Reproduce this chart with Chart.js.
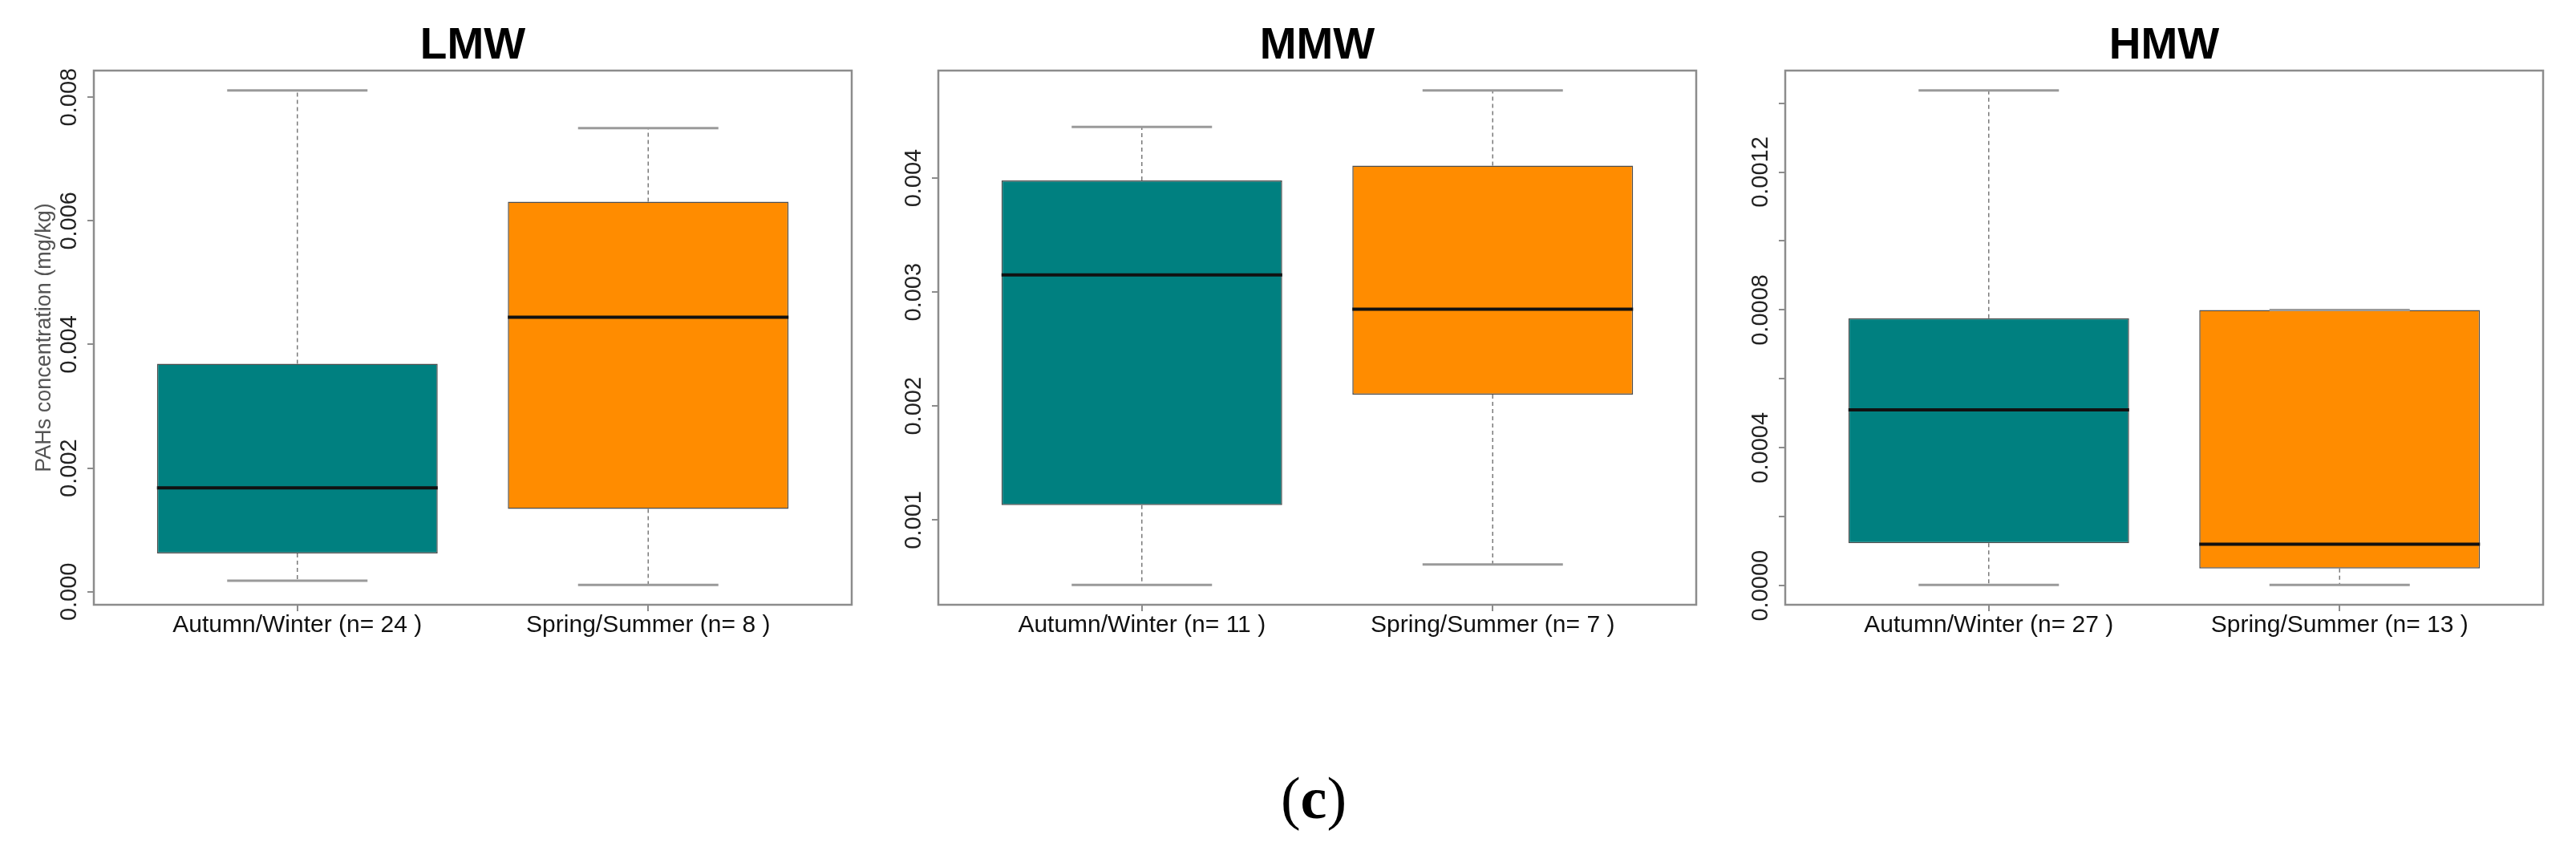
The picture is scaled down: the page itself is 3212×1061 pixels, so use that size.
<!DOCTYPE html>
<html>
<head>
<meta charset="utf-8">
<script src="https://cdn.jsdelivr.net/npm/chart.js@4.4.1/dist/chart.umd.min.js"></script>
<style>
  html, body { margin: 0; padding: 0; background: #fff; }
  body { width: 3212px; height: 1061px; position: relative; overflow: hidden; }
  .panel { position: absolute; top: 0; width: 1066px; height: 840px; }
  #caption {
    position: absolute; left: 1538px; top: 950px; width: 200px;
    text-align: center; font-family: 'Liberation Serif', 'DejaVu Serif', serif;
    font-size: 74px; line-height: 90px; color: #000;
  }
</style>
</head>
<body>
<div class="panel" style="left:0px"><canvas id="lmw"></canvas></div>
<div class="panel" style="left:1053px"><canvas id="mmw"></canvas></div>
<div class="panel" style="left:2109px"><canvas id="hmw"></canvas></div>
<div id="caption">(<b>c</b>)</div>

<script>
// five-number summaries: [lower whisker, Q1, median, Q3, upper whisker]
const lmwLabels = ['Autumn/Winter (n= 24 )', 'Spring/Summer (n= 8 )'];
const lmwAutumn = [0.00018, 0.00062, 0.00168, 0.00369, 0.00811];
const lmwSpring = [0.00011, 0.00134, 0.00444, 0.00631, 0.00750];
const lmwTicks = [0, 0.002, 0.004, 0.006, 0.008];
const lmwTickLabels = ['0.000', '0.002', '0.004', '0.006', '0.008'];

const mmwLabels = ['Autumn/Winter (n= 11 )', 'Spring/Summer (n= 7 )'];
const mmwAutumn = [0.00043, 0.00113, 0.00315, 0.00398, 0.00445];
const mmwSpring = [0.00061, 0.00210, 0.00285, 0.00411, 0.00477];
const mmwTicks = [0.001, 0.002, 0.003, 0.004];
const mmwTickLabels = ['0.001', '0.002', '0.003', '0.004'];

const hmwLabels = ['Autumn/Winter (n= 27 )', 'Spring/Summer (n= 13 )'];
const hmwAutumn = [0.000002, 0.000123, 0.00051, 0.000776, 0.001437];
const hmwSpring = [0.000002, 0.00005, 0.00012, 0.00080, 0.00080];
const hmwTicks = [0, 0.0002, 0.0004, 0.0006, 0.0008, 0.0010, 0.0012, 0.0014];
const hmwTickLabels = ['0.0000', '', '0.0004', '', '0.0008', '', '0.0012', ''];

const boxColors = ['#008080', '#ff8c00'];
const frameColor = '#8c8c8c';
const sans = "'Liberation Sans', Arial, sans-serif";

// whiskers, staples, medians and the box frame, like R's boxplot
const rBoxPlugin = {
  id: 'rBox',
  afterDatasetsDraw(chart, args, opts) {
    const ctx = chart.ctx;
    const y = chart.scales.y;
    const meta = chart.getDatasetMeta(0);
    const line = (x1, y1, x2, y2) => {
      ctx.beginPath(); ctx.moveTo(x1, y1); ctx.lineTo(x2, y2); ctx.stroke();
    };
    meta.data.forEach((bar, i) => {
      const s = opts.stats[i];
      const cx = bar.x;
      const half = bar.width / 2;
      ctx.save();
      ctx.strokeStyle = '#7a7a7a';
      ctx.lineWidth = 1.5;
      ctx.setLineDash([5, 4]);
      line(cx, y.getPixelForValue(s[3]), cx, y.getPixelForValue(s[4]));
      line(cx, y.getPixelForValue(s[1]), cx, y.getPixelForValue(s[0]));
      ctx.setLineDash([]);
      ctx.strokeStyle = '#9a9a9a';
      ctx.lineWidth = 3;
      line(cx - half / 2, y.getPixelForValue(s[4]), cx + half / 2, y.getPixelForValue(s[4]));
      line(cx - half / 2, y.getPixelForValue(s[0]), cx + half / 2, y.getPixelForValue(s[0]));
      ctx.strokeStyle = '#111';
      ctx.lineWidth = 4;
      line(cx - half, y.getPixelForValue(s[2]), cx + half, y.getPixelForValue(s[2]));
      ctx.restore();
    });
    const a = chart.chartArea;
    ctx.save();
    ctx.strokeStyle = frameColor;
    ctx.lineWidth = 2.5;
    ctx.strokeRect(a.left, a.top, a.right - a.left, a.bottom - a.top);
    ctx.restore();
  }
};

function textWidth(labels, font) {
  const c = document.createElement('canvas').getContext('2d');
  c.font = font;
  return Math.max(...labels.map(l => c.measureText(l).width));
}

function makePanel(id, title, labels, autumn, spring, ticks, tickLabels, yTitle) {
  const stats = [autumn, spring];
  // R extends the data range by 4% on each side
  const lo = Math.min(autumn[0], spring[0]);
  const hi = Math.max(autumn[4], spring[4]);
  const pad = (hi - lo) * 0.04;
  const tickFontSize = 29;
  const widest = textWidth(tickLabels, tickFontSize + 'px ' + sans);

  new Chart(document.getElementById(id), {
    type: 'bar',
    data: {
      datasets: [{
        data: stats.map((s, i) => ({ x: i + 1, y: [s[1], s[3]] })),
        backgroundColor: boxColors,
        borderColor: '#4d4d4d',
        borderWidth: 1.5,
        borderSkipped: false,
        barPercentage: 0.8,
        categoryPercentage: 1
      }]
    },
    options: {
      responsive: true,
      maintainAspectRatio: false,
      animation: false,
      layout: { padding: { right: 4 } },
      plugins: {
        legend: { display: false },
        tooltip: { enabled: false },
        title: {
          display: true,
          text: title,
          fullSize: false,
          color: '#000',
          font: { family: sans, size: 55, weight: 'bold', lineHeight: 1 },
          padding: { top: 30, bottom: 3 }
        },
        rBox: { stats: stats }
      },
      scales: {
        x: {
          type: 'linear',
          min: 0.42,
          max: 2.58,
          offset: false,
          afterBuildTicks: s => { s.ticks = labels.map((l, i) => ({ value: i + 1 })); },
          afterFit: s => { s.height = 86; },
          ticks: {
            callback: v => labels[v - 1],
            autoSkip: false,
            maxRotation: 0,
            padding: 0,
            color: '#111',
            font: { family: sans, size: 30, lineHeight: 1.2 }
          },
          grid: { offset: false, drawOnChartArea: false, color: frameColor, lineWidth: 2, tickLength: 8 },
          border: { display: false }
        },
        y: {
          min: lo - pad,
          max: hi + pad,
          afterBuildTicks: s => { s.ticks = ticks.map(v => ({ value: v })); },
          afterFit: s => { s.width = 117; },
          ticks: {
            callback: (v, i) => tickLabels[i],
            autoSkip: false,
            minRotation: 90,
            maxRotation: 90,
            crossAlign: 'center',
            padding: 22 - widest / 2,
            color: '#222',
            font: { family: sans, size: tickFontSize }
          },
          grid: { drawOnChartArea: false, color: frameColor, lineWidth: 2, tickLength: 8 },
          border: { display: false },
          title: {
            display: !!yTitle,
            text: yTitle || '',
            color: '#555',
            font: { family: sans, size: 27, lineHeight: 1.2 },
            padding: { top: 39 }
          }
        }
      }
    },
    plugins: [rBoxPlugin]
  });
}

makePanel('lmw', 'LMW', lmwLabels, lmwAutumn, lmwSpring, lmwTicks, lmwTickLabels, 'PAHs concentration (mg/kg)');
makePanel('mmw', 'MMW', mmwLabels, mmwAutumn, mmwSpring, mmwTicks, mmwTickLabels);
makePanel('hmw', 'HMW', hmwLabels, hmwAutumn, hmwSpring, hmwTicks, hmwTickLabels);
</script>
</body>
</html>
